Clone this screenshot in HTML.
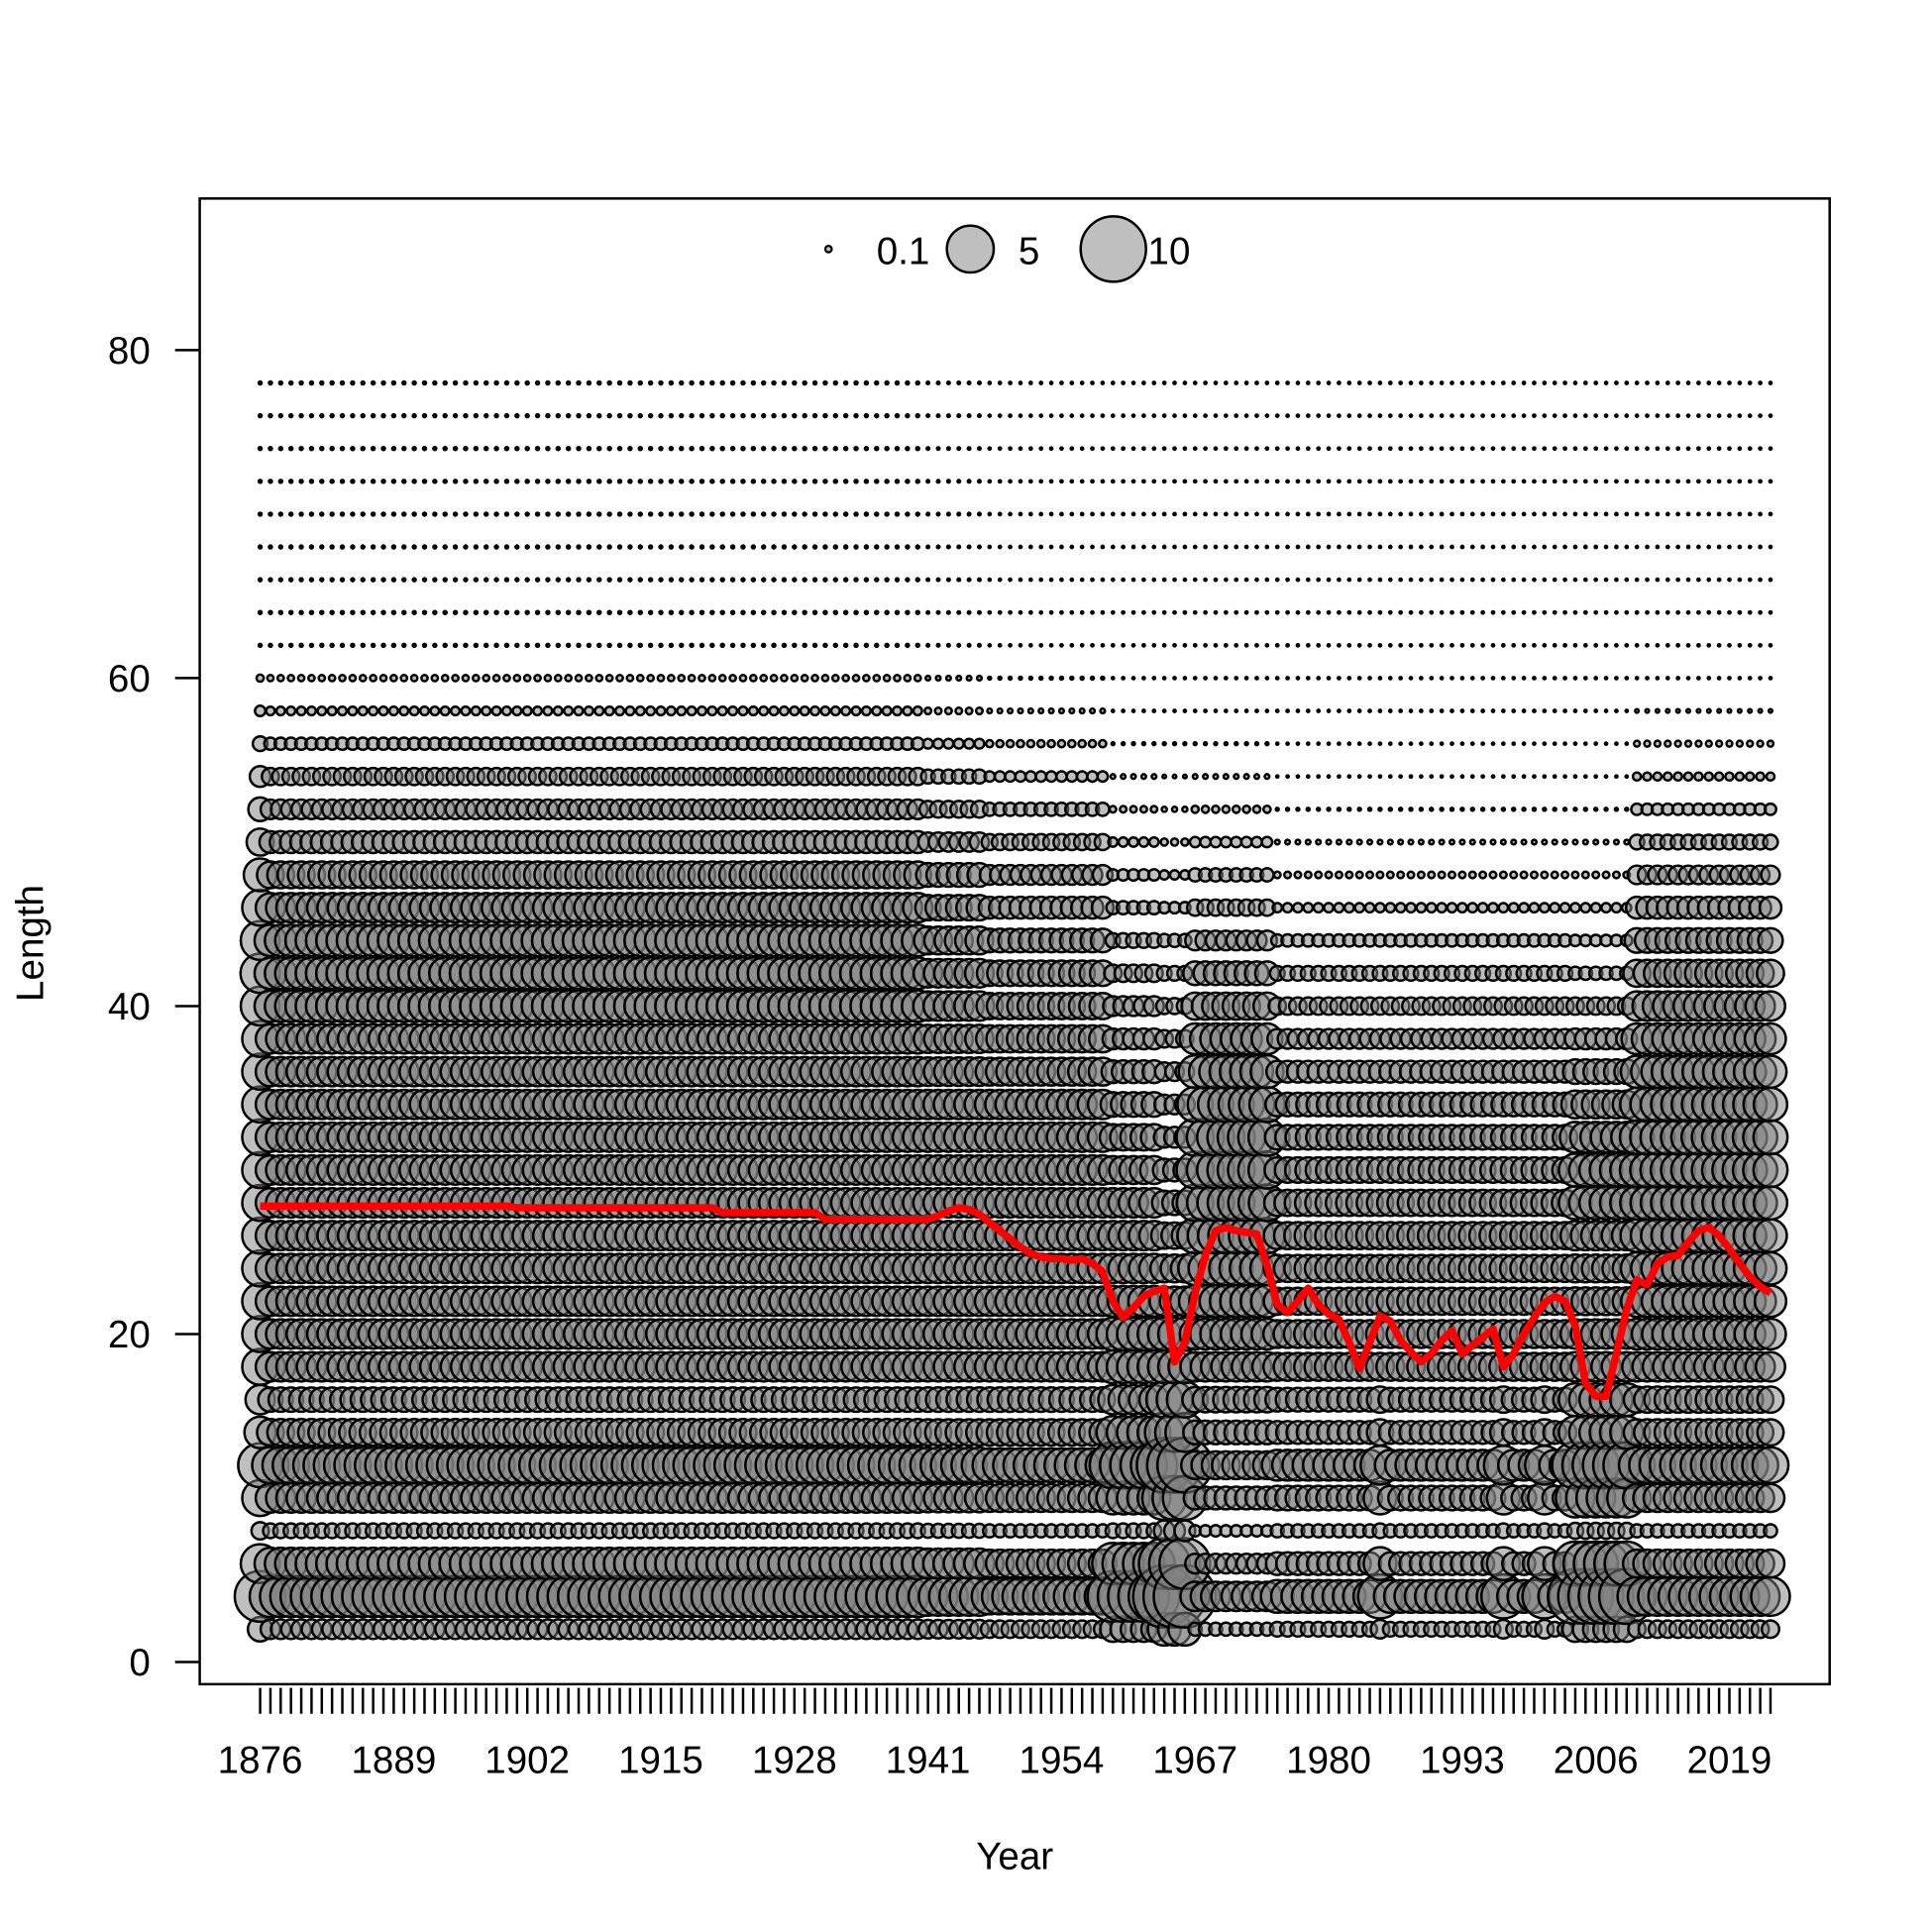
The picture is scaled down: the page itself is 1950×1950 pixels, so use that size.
<!DOCTYPE html>
<html><head><meta charset="utf-8"><style>
html,body{margin:0;padding:0;background:#fff}
svg{display:block}
text{font-family:"Liberation Sans",Arial,sans-serif;fill:#000}
</style></head><body>
<svg id="chart" width="1950" height="1950" viewBox="0 0 1567 1567" xmlns="http://www.w3.org/2000/svg">
<rect x="0" y="0" width="1567" height="1567" fill="#fff"/>
<g id="bubbles"></g>
<polyline id="meanline" fill="none" stroke="#ff0000" stroke-width="6" stroke-linejoin="round"/>
<rect x="162" y="161" width="1322" height="1205" fill="none" stroke="#000" stroke-width="2"/>
<g id="yaxis"></g>
<g id="xaxis"></g>
<text x="823" y="1516" font-size="31" text-anchor="middle">Year</text>
<text x="35" y="765" font-size="31" text-anchor="middle" transform="rotate(-90 35 765)">Length</text>
<g id="legend">
<circle cx="672" cy="202" r="2.6" fill="rgba(127,127,127,0.5)" stroke="#000" stroke-width="1.8"/>
<text x="711" y="214" font-size="31">0.1</text>
<circle cx="787" cy="202" r="19" fill="rgba(127,127,127,0.5)" stroke="#000" stroke-width="2"/>
<text x="826" y="214" font-size="31">5</text>
<circle cx="903" cy="202" r="26.5" fill="rgba(127,127,127,0.5)" stroke="#000" stroke-width="2"/>
<text x="931" y="214" font-size="31">10</text>
</g>
</svg>
<script>
const lengthBins = [2,4,6,8,10,12,14,16,18,20,22,24,26,28,30,32,34,36,38,40,42,44,46,48,50,52,54,56,58,60,62,64,66,68,70,72,74,76,78];
const yTicks = [0,20,40,60,80];
const xTickLabels = [1876,1889,1902,1915,1928,1941,1954,1967,1980,1993,2006,2019];
const firstYear = 1876, lastYear = 2023;
const profiles = [
 [1.4,6,3.5,0.7,3,4.5,2.3,2,3,3,3,3,3,3,3,3,3,3,3,3.5,3.6,3.5,3,2.5,1.7,1.3,1,0.5,0.25,0.12,0.02,0.02,0.02,0.02,0.02,0.02,0.02,0.02,0.02],
 [0.89,4,2.34,0.5,2,3.1,1.67,1.38,2,2,2,2,2,2,2,2,2,2,2,2.34,2.34,2.34,2,1.67,1.12,0.89,0.68,0.35,0.17,0.09,0.02,0.02,0.02,0.02,0.02,0.02,0.02,0.02,0.02],
 [0.7,3,1.8,0.4,1.8,2.7,1.6,1.4,2,2,2,2,2,2,2,2,2,1.8,1.7,1.6,1.5,1.3,1.1,0.9,0.6,0.4,0.25,0.12,0.05,0.02,0.01,0.01,0.01,0.01,0.01,0.01,0.01,0.01,0.01],
 [1.5,6,4,0.5,2.5,5,2.5,2,2.5,2.5,2.2,2,2,2,1.8,1.6,1.4,1.2,1,0.9,0.7,0.5,0.4,0.3,0.2,0.1,0.05,0.02,0.01,0.01,0.01,0.01,0.01,0.01,0.01,0.01,0.01,0.01,0.01],
 [2.5,9,6,1,4.5,7,3.5,3,2.5,2.5,2,1.8,1.6,1.4,1.2,1,0.9,0.8,0.7,0.6,0.5,0.4,0.3,0.2,0.12,0.06,0.03,0.02,0.01,0.01,0.01,0.01,0.01,0.01,0.01,0.01,0.01,0.01,0.01],
 [0.4,2,0.9,0.3,1.2,1.8,1.3,1.5,2,2.2,2.4,2.6,2.9,3.1,3.2,3.2,2.9,2.5,2.2,1.7,1.3,0.9,0.6,0.4,0.25,0.12,0.05,0.02,0.01,0.01,0.01,0.01,0.01,0.01,0.01,0.01,0.01,0.01,0.01],
 [0.5,2.5,1.2,0.4,1.4,2.2,1.2,1.3,1.8,1.8,1.7,1.7,1.7,1.6,1.5,1.4,1.3,1.1,0.9,0.7,0.5,0.35,0.2,0.1,0.05,0.02,0.01,0.01,0.01,0.01,0.01,0.01,0.01,0.01,0.01,0.01,0.01,0.01,0.01],
 [0.8,4.5,2.5,0.5,2.5,3.5,1.6,1.6,1.8,1.8,1.7,1.7,1.7,1.6,1.5,1.4,1.3,1.1,0.9,0.7,0.5,0.35,0.2,0.1,0.05,0.02,0.01,0.01,0.01,0.01,0.01,0.01,0.01,0.01,0.01,0.01,0.01,0.01,0.01],
 [1.5,7,4.5,0.6,3.5,5,2.5,2.5,2,2,1.8,1.8,2,2.5,2.5,2.2,1.8,1.4,1,0.7,0.4,0.3,0.2,0.1,0.05,0.02,0.01,0.01,0.01,0.01,0.01,0.01,0.01,0.01,0.01,0.01,0.01,0.01,0.01],
 [0.7,3.5,1.8,0.4,1.8,3,1.6,1.6,2,2.2,2.3,2.4,2.5,2.6,2.7,2.7,2.6,2.4,2.2,2,1.7,1.4,1.1,0.8,0.5,0.3,0.15,0.08,0.03,0.01,0.01,0.01,0.01,0.01,0.01,0.01,0.01,0.01,0.01],
 [0.8,3.5,2.1,0.45,1.9,2.9,1.6,1.4,2,2,2,2,2,2,2,2,2,1.9,1.85,2,1.9,1.8,1.5,1.3,0.85,0.65,0.45,0.22,0.1,0.05,0.015,0.015,0.015,0.015,0.015,0.015,0.015,0.015,0.015]
];
const yearProfile = [0,
1,1,1,1,1,1,1,1,1,1,1,1,1,1,1,1,1,1,1,1,1,1,1,1,1,1,1,1,1,1,1,1,1,1,
1,1,1,1,1,1,1,1,1,1,1,1,1,1,1,1,1,1,1,1,1,1,1,1,1,1,1,1,1,1,10,10,10,10,
10,10,2,2,2,2,2,2,2,2,2,2,2,2,
3,3,3,3,3,
4,4,4,
5,5,5,5,5,5,5,5,
6,6,6,6,6,6,6,6,6,6,7,6,6,6,6,6,6,6,6,6,6,6,7,6,6,6,7,6,6,
8,8,8,8,8,8,
9,9,9,9,9,9,9,9,9,9,9,9,9,9];
const meanLength = [
27.8,27.8,27.8,27.8,27.8,27.8,27.8,27.8,27.8,27.8,27.8,27.8,27.8,27.8,27.8,27.8,27.8,27.8,27.8,27.8,27.8,27.8,27.8,27.8,27.8,
27.7,27.7,27.7,27.7,27.7,27.7,27.7,27.7,27.7,27.7,27.7,27.7,27.7,27.7,27.7,27.7,27.7,27.7,27.7,27.7,
27.4,27.4,27.4,27.4,27.4,27.4,27.4,27.4,27.4,27.4,
27.0,27.0,27.0,27.0,27.0,27.0,27.0,27.0,27.0,27.0,27.0,
27.2,27.5,27.7,27.6,27.3,26.8,26.3,25.8,25.3,24.9,24.7,24.6,24.6,24.5,24.6,24.3,23.8,
22.0,21.0,21.6,22.3,22.6,22.8,18.3,19.5,22.5,24.8,26.3,26.5,26.3,26.2,26.1,24.2,
21.8,21.3,22.0,22.8,21.8,21.2,20.9,19.5,17.9,19.5,21.1,20.8,19.6,18.9,18.3,18.8,19.6,20.2,18.8,19.3,19.8,20.3,18.0,18.8,20.0,21.0,21.9,22.3,22.0,20.5,
17.0,16.2,16.2,18.8,21.5,23.3,23.0,24.3,24.7,24.8,25.6,26.3,26.5,26.0,25.2,24.3,23.5,22.9,22.5];

const NS = "http://www.w3.org/2000/svg";
const X0 = 211, X1 = 1436, Y0 = 1348, PXU = 13.3;
function xScale(yr){ return X0 + (yr - firstYear) * (X1 - X0) / (lastYear - firstYear); }
function yScale(v){ return Y0 - v * PXU; }
function rScale(v){ return 8.4 * Math.sqrt(v); }

const gB = document.getElementById('bubbles');
for (let i = 0; i <= lastYear - firstYear; i++) {
  const yr = firstYear + i;
  const prof = profiles[yearProfile[i]];
  for (let j = 0; j < lengthBins.length; j++) {
    const c = document.createElementNS(NS, 'circle');
    
    
    c.setAttribute('cx', xScale(yr));
    c.setAttribute('cy', yScale(lengthBins[j]));
    c.setAttribute('r', Math.max(rScale(prof[j]), 0.9));
    c.setAttribute('fill', 'rgba(127,127,127,0.5)');
    c.setAttribute('stroke', '#000');
    c.setAttribute('stroke-width', '2');
    gB.appendChild(c);
  }
}
const pts = [];
for (let i = 0; i < meanLength.length; i++) pts.push(xScale(firstYear + i) + ',' + yScale(meanLength[i]));
document.getElementById('meanline').setAttribute('points', pts.join(' '));

const gY = document.getElementById('yaxis');
yTicks.forEach(t => {
  const l = document.createElementNS(NS, 'line');
  
  
  l.setAttribute('x1', 142); l.setAttribute('x2', 162);
  l.setAttribute('y1', yScale(t)); l.setAttribute('y2', yScale(t));
  l.setAttribute('stroke', '#000'); l.setAttribute('stroke-width', '2');
  gY.appendChild(l);
  const tx = document.createElementNS(NS, 'text');
  
  
  tx.setAttribute('x', 122); tx.setAttribute('y', yScale(t) + 11);
  tx.setAttribute('font-size', '31'); tx.setAttribute('text-anchor', 'end');
  tx.textContent = t;
  gY.appendChild(tx);
});
const gX = document.getElementById('xaxis');
for (let yr = firstYear; yr <= lastYear; yr++) {
  const l = document.createElementNS(NS, 'line');
  
  
  l.setAttribute('x1', xScale(yr)); l.setAttribute('x2', xScale(yr));
  l.setAttribute('y1', 1369); l.setAttribute('y2', 1390);
  l.setAttribute('stroke', '#000'); l.setAttribute('stroke-width', '2');
  gX.appendChild(l);
}
xTickLabels.forEach(yr => {
  const tx = document.createElementNS(NS, 'text');
  
  
  tx.setAttribute('x', xScale(yr)); tx.setAttribute('y', 1438);
  tx.setAttribute('font-size', '31'); tx.setAttribute('text-anchor', 'middle');
  tx.textContent = yr;
  gX.appendChild(tx);
});
</script>
</body></html>
